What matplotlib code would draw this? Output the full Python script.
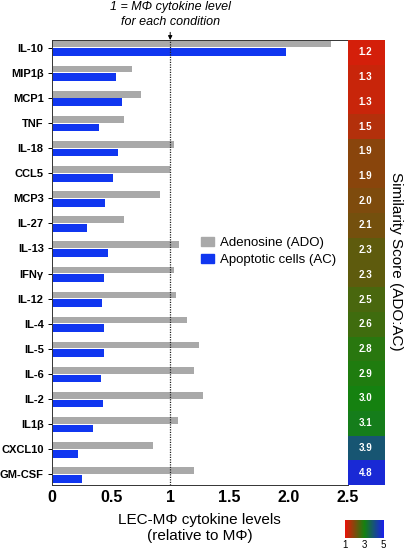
import numpy as np
import matplotlib
matplotlib.use('Agg')
import matplotlib.pyplot as plt
from matplotlib.colors import LinearSegmentedColormap
from matplotlib.patches import Patch

plt.rcParams['font.family'] = ['Liberation Sans', 'DejaVu Sans']

# data
cytokines = ['IL-10', 'MIP1β', 'MCP1', 'TNF', 'IL-18', 'CCL5', 'MCP3', 'IL-27',
             'IL-13', 'IFNγ', 'IL-12', 'IL-4', 'IL-5', 'IL-6', 'IL-2', 'IL1β',
             'CXCL10', 'GM-CSF']
ado = [2.36, 0.68, 0.755, 0.61, 1.03, 1.0, 0.91, 0.61,
       1.075, 1.03, 1.045, 1.14, 1.24, 1.20, 1.28, 1.07, 0.855, 1.20]
ac = [1.98, 0.54, 0.59, 0.40, 0.555, 0.52, 0.45, 0.295,
      0.475, 0.44, 0.42, 0.44, 0.44, 0.415, 0.43, 0.35, 0.22, 0.25]
scores = [1.2, 1.3, 1.3, 1.5, 1.9, 1.9, 2.0, 2.1, 2.3, 2.3,
          2.5, 2.6, 2.8, 2.9, 3.0, 3.1, 3.9, 4.8]
xticks = [0, 0.5, 1, 1.5, 2.0, 2.5]
xticklabels = ['0', '0.5', '1', '1.5', '2.0', '2.5']

cmap = LinearSegmentedColormap.from_list('sim', ['#e8150a', '#158210', '#1a20ea'])
gray = '#a9a9a9'
blue = '#1036f0'

fig = plt.figure(figsize=(4.06, 5.51), dpi=100)
ax = fig.add_axes([0.128, 0.12, 0.728, 0.8074])

y = np.arange(len(cytokines))
ax.barh(y - 0.147, ado, height=0.265, color=gray)
ax.barh(y + 0.177, ac, height=0.31, color=blue)
ax.axvline(1, color='#222222', linestyle=(0, (1, 1)), lw=0.9)

ax.set_xlim(0, 2.5)
ax.set_ylim(17.42, -0.307)
ax.set_yticks(y)
ax.set_yticklabels(cytokines, fontsize=8, fontweight='bold')
ax.set_xticks(xticks)
ax.set_xticklabels(xticklabels, fontsize=11.5, fontweight='bold')
ax.tick_params(axis='y', length=3, width=0.7, pad=3)
ax.tick_params(axis='x', length=0, pad=4)
ax.spines['right'].set_visible(False)
for s in ['left', 'top', 'bottom']:
    ax.spines[s].set_linewidth(0.7)
    ax.spines[s].set_color('#333333')

ax.text(1.25, -0.064, 'LEC-MΦ cytokine levels\n(relative to MΦ)',
        transform=ax.get_xaxis_transform(), ha='center', va='top',
        fontsize=11, linespacing=1.15)

ax.annotate('1 = MΦ cytokine level\nfor each condition', xy=(1, 1),
            xycoords=ax.get_xaxis_transform(), xytext=(0, 8.5),
            textcoords='offset points', ha='center', va='bottom',
            fontsize=9, style='italic', linespacing=1.3,
            arrowprops=dict(arrowstyle='-|>', color='k', lw=0.7,
                            mutation_scale=6, shrinkA=1, shrinkB=0))

handles = [Patch(color=gray), Patch(color=blue)]
ax.legend(handles, ['Adenosine (ADO)', 'Apoptotic cells (AC)'],
          loc='upper left', bbox_to_anchor=(0.465, 0.585), frameon=False,
          fontsize=9.5, handlelength=0.95, handleheight=0.7,
          handletextpad=0.45, labelspacing=0.4)

# similarity score column
cax = fig.add_axes([0.856, 0.12, 0.0887, 0.8074])
cax.imshow(np.array(scores).reshape(-1, 1), cmap=cmap, vmin=1, vmax=5,
           aspect='auto', extent=(0, 1, len(scores), 0))
for i, s in enumerate(scores):
    cax.text(0.5, i + 0.5, f'{s:.1f}', ha='center', va='center',
             color='white', fontsize=7, fontweight='bold')
cax.set_xlim(0, 1)
cax.set_ylim(len(scores), 0)
cax.axis('off')

fig.text(0.975, 0.525, 'Similarity Score (ADO:AC)', rotation=270,
         ha='center', va='center', fontsize=11)

# small color key
kax = fig.add_axes([0.85, 0.024, 0.0936, 0.033])
kax.imshow(np.linspace(1, 5, 100).reshape(1, -1), cmap=cmap, aspect='auto',
           extent=(1, 5, 0, 1))
kax.set_xticks([1, 3, 5])
kax.set_xticklabels(['1', '3', '5'], fontsize=7)
kax.set_yticks([])
kax.tick_params(axis='x', length=0, pad=1.5)
for s in kax.spines.values():
    s.set_visible(False)

fig.savefig('out.png', dpi=100)
